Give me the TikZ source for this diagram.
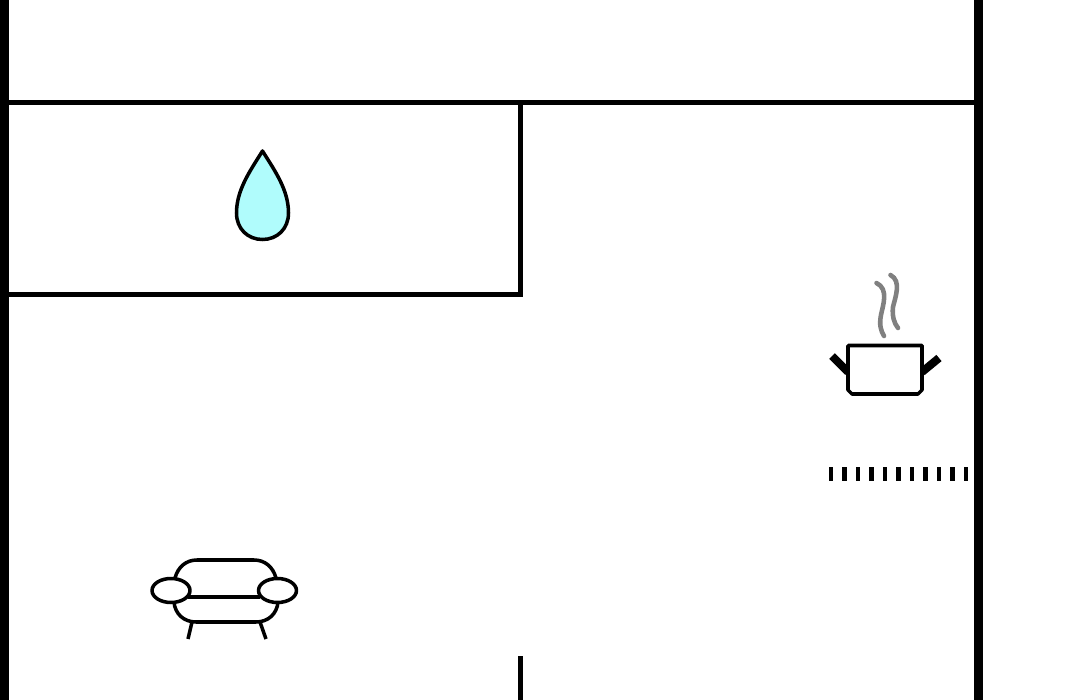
\documentclass[tikz,border=0pt]{standalone}
\tikzset{
  wall/.style={line width=5.1pt},
  partition/.style={line width=2.3pt},
  icon/.style={line width=2pt,line join=round},
  steam/.style={line width=2.6pt,gray,line cap=round},
}
\definecolor{dropblue}{HTML}{B0FCFC}
\begin{document}
\begin{tikzpicture}[x=.02cm,y=-.02cm]
\useasboundingbox (0,0) rectangle (1080,700);
\fill[white] (0,0) rectangle (1080,700);

% walls
\draw[wall] (4.5,0) -- (4.5,700);
\draw[wall] (978.5,0) -- (978.5,700);
\draw[partition] (9,102.5) -- (974,102.5);
\draw[partition] (9,294.5) -- (520.5,294.5) -- (520.5,102.5);
\draw[partition] (520.5,656) -- (520.5,700);

% drop
\draw[icon,fill=dropblue] (262.5,151) .. controls (250,171) and (236.5,190) .. (236.5,213)
  .. controls (236.5,229) and (248,239.5) .. (262.5,239.5)
  .. controls (277,239.5) and (288.5,229) .. (288.5,213)
  .. controls (288.5,190) and (275,171) .. (262.5,151) -- cycle;

% pot
\draw[line width=4.6pt] (832,356) -- (848,372);
\draw[line width=4.6pt] (939,358) -- (922,372);
\draw[icon,fill=white] (848,345.5) -- (922,345.5) -- (922,390) -- (918,394) -- (852,394) -- (848,390) -- cycle;
\draw[steam] (876.5,283) .. controls (889,289) and (883,305) .. (881,315) .. controls (879,325) and (881,331) .. (884,336);
\draw[steam] (890.5,275) .. controls (902,281) and (895,298) .. (893,307) .. controls (892,316) and (894,323) .. (898,328);

% burner
\foreach \x in {0,...,10}
{
   \draw[line width=2.7pt] (831+13.5*\x,467) -- (831+13.5*\x,481);
}

% sofa
\draw[icon] (175,578) .. controls (178,567) and (186,560) .. (197,560) -- (254,560)
  .. controls (265,560) and (273,567) .. (276,578);
\draw[icon] (174,602) .. controls (175,614) and (184,622) .. (196,622) -- (256,622)
  .. controls (268,622) and (277,614) .. (278,602);
\draw[icon] (188,597) -- (260,597);
\draw[icon] (171,590.5) ellipse (19 and 12);
\draw[icon] (277.5,590.5) ellipse (19 and 12);
\draw[icon] (192,622) -- (188,639);
\draw[icon] (260,622) -- (266,639);

\end{tikzpicture}
\end{document}
